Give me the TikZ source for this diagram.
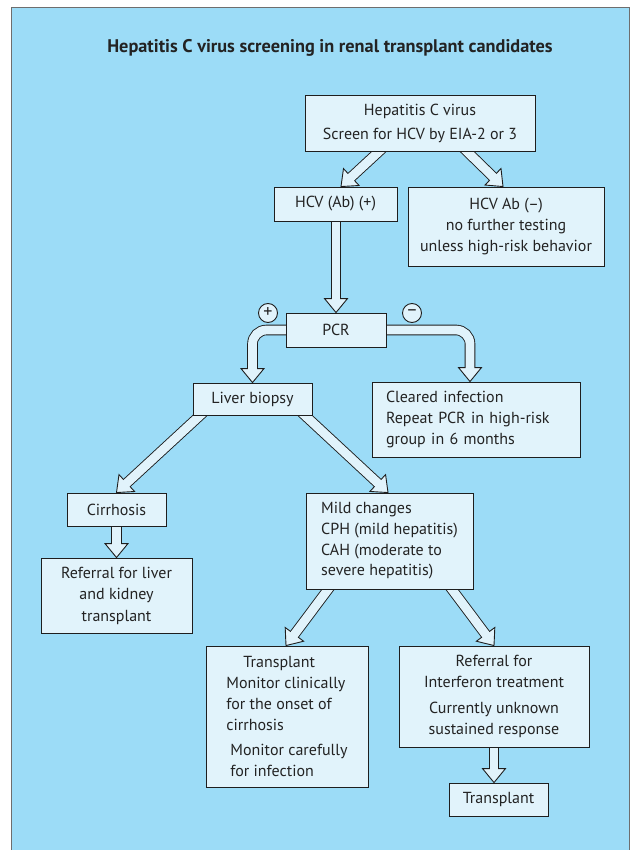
\documentclass[tikz,border=0pt]{standalone}
\usepackage{fontspec}
\setmainfont{PT Sans}
\setsansfont{PT Sans}
\usetikzlibrary{calc}
\definecolor{bgblue}{RGB}{156,220,247}
\definecolor{boxfill}{RGB}{225,243,251}
\definecolor{linecol}{RGB}{30,30,30}
\definecolor{txtcol}{RGB}{35,35,35}
\definecolor{framecol}{RGB}{110,110,110}
\pgfdeclarelayer{background}
\pgfdeclarelayer{arrowlayer}
\pgfsetlayers{background,arrowlayer,main}

% straight outlined arrow: #1 exit point on source border, #2 tip on target border
\newcommand\fatarrow[2]{%
  \coordinate (faP) at (#1);
  \coordinate (faT) at (#2);
  \coordinate (faS) at ($(faP)!-10pt!(faT)$);
  \coordinate (faB) at ($(faT)!14pt!(faS)$);
  \coordinate (faL) at ($(faB)!11.5pt!90:(faT)$);
  \coordinate (faR) at ($(faB)!11.5pt!-90:(faT)$);
  \coordinate (faE) at ($(faT)!11pt!(faS)$);
  \draw[shaftout] (faS) -- (faB);
  \filldraw[headstyle] (faT) -- (faL) -- (faR) -- cycle;
  \draw[shaftin] (faS) -- (faE);
}
% bent outlined arrow: horizontal then down; #1 start inside source, #2 tip
\newcommand\fatbend[2]{%
  \coordinate (fbS) at (#1);
  \coordinate (fbT) at (#2);
  \coordinate (fbB) at ($(fbT)+(0,-14)$);
  \coordinate (fbE) at ($(fbT)+(0,-11)$);
  \draw[shaftout, rounded corners=14pt] (fbS) -| (fbB);
  \filldraw[headstyle] (fbT) -- ($(fbB)+(-11.5,0)$) -- ($(fbB)+(11.5,0)$) -- cycle;
  \draw[shaftin, rounded corners=14pt] (fbS) -| (fbE);
}

\begin{document}
\begin{tikzpicture}[x=1pt,y=-1pt,
  box/.style={draw=linecol, line width=0.9pt, fill=boxfill, text=txtcol,
    inner sep=0pt, align=center, font=\fontsize{16}{20.7}\selectfont},
  titlestyle/.style={text=txtcol, inner sep=0pt, font=\bfseries\fontsize{18.3}{20}\selectfont},
  sign/.style={circle, draw=linecol, fill=boxfill, line width=0.9pt, minimum size=19pt,
    inner sep=0pt, text=txtcol, font=\fontsize{18}{18}\selectfont},
  shaftout/.style={line width=10.6pt, linecol},
  shaftin/.style={line width=8.8pt, boxfill},
  headstyle/.style={fill=boxfill, draw=linecol, line width=0.9pt, line join=miter}]
\useasboundingbox (0,0) rectangle (631,850);
\begin{pgfonlayer}{background}
  \fill[white] (0,0) rectangle (631,850);
  \filldraw[fill=bgblue, draw=framecol, line width=1pt] (11.5,7.5) rectangle (629,860);
\end{pgfonlayer}

\node[titlestyle] (title) at (330,48) {Hepatitis C virus screening in renal transplant candidates};

\node[box, minimum width=230pt, minimum height=56pt, font=\fontsize{16}{24}\selectfont] (screen) at (420,123)
  {Hepatitis C virus\\Screen for HCV by EIA-2 or 3};
\node[box, minimum width=123pt, minimum height=34pt] (hcvpos) at (335.5,204) {HCV (Ab) (+)};
\node[box, minimum width=196pt, minimum height=79pt] (hcvneg) at (506,226.5)
  {HCV Ab (–)\\no further testing\\unless high-risk behavior};
\node[box, minimum width=100pt, minimum height=34pt] (pcr) at (336,330) {PCR};
\node[sign] (plus) at (268,313) {+};
\node[sign] (minus) at (412,313) {–};
\node[box, minimum width=119pt, minimum height=32pt] (biopsy) at (252.5,399) {Liver biopsy};
\node[box, minimum width=208pt, minimum height=75pt, align=left, text width=180pt, inner xsep=14pt] (cleared) at (476,419.5)
  {Cleared infection\\Repeat PCR in high-risk\\group in 6 months};
\node[box, minimum width=99pt, minimum height=33pt] (cirrh) at (116.5,509.5) {Cirrhosis};
\node[box, minimum width=151pt, minimum height=75pt, font=\fontsize{16}{21.5}\selectfont] (reflk) at (116.5,595.5)
  {Referral for liver\\and kidney\\transplant};
\node[box, minimum width=167pt, minimum height=96pt, align=left] (mild) at (389.5,541)
  {Mild changes\\CPH (mild hepatitis)\\CAH (moderate to\\severe hepatitis)};
\node[box, minimum width=162pt, minimum height=141pt, align=left, font=\fontsize{16}{21}\selectfont] (tx) at (287,716.5)
  {\hspace*{17pt}Transplant\\Monitor clinically\\for the onset of\\cirrhosis\\[4pt]\hspace*{4pt}Monitor carefully\\\hspace*{4pt}for infection};
\node[box, minimum width=190pt, minimum height=101pt, font=\fontsize{16}{21.5}\selectfont] (interf) at (494,696.5)
  {Referral for\\Interferon treatment\\[4pt]Currently unknown\\sustained response};
\node[box, minimum width=99pt, minimum height=33pt] (tx2) at (498.5,799.5) {Transplant};

\begin{pgfonlayer}{arrowlayer}
  \fatarrow{$(screen.south)+(-41,0)$}{$(hcvpos.north)+(5.5,0)$}
  \fatarrow{$(screen.south)+(47,0)$}{$(hcvneg.north)+(-3,0)$}
  \fatarrow{pcr.north |- hcvpos.south}{pcr.north}
  \fatbend{$(pcr.west)+(8,0)$}{biopsy.north}
  \fatbend{$(pcr.east)+(-8,0)$}{$(cleared.north)+(-6,0)$}
  \fatarrow{$(biopsy.south)+(-52.5,0)$}{cirrh.north}
  \fatarrow{$(biopsy.south)+(52.5,0)$}{$(mild.north)+(-1.5,0)$}
  \fatarrow{reflk.north |- cirrh.south}{reflk.north}
  \fatarrow{$(mild.south)+(-61.5,0)$}{$(tx.north)+(-1,0)$}
  \fatarrow{$(mild.south)+(62.5,0)$}{interf.north}
  \fatarrow{interf.south}{interf.south |- tx2.north}
\end{pgfonlayer}
\end{tikzpicture}
\end{document}
